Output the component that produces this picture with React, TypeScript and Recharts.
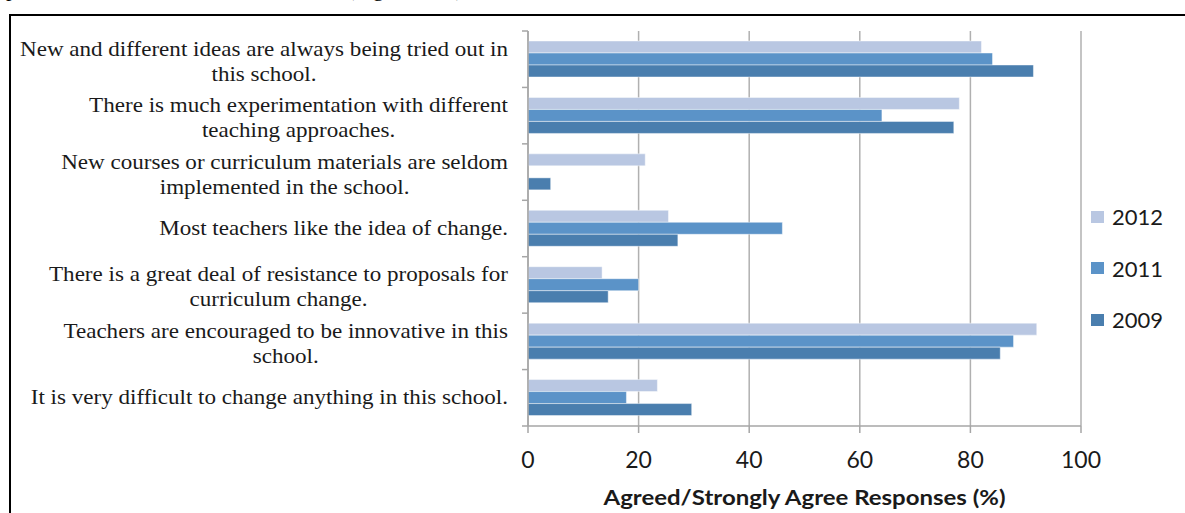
import { BarChart, Bar, XAxis, YAxis, CartesianGrid, Legend } from 'recharts'

const statements = [
  'New and different ideas are always being tried out in\nthis school.',
  'There is much experimentation with different\nteaching approaches.',
  'New courses or curriculum materials are seldom\nimplemented in the school.',
  'Most teachers like the idea of change.',
  'There is a great deal of resistance to proposals for\ncurriculum change.',
  'Teachers are encouraged to be innovative in this\nschool.',
  'It is very difficult to change anything in this school.',
]
const years = ['2012', '2011', '2009']
const values2012 = [82, 78, 21.2, 25.4, 13.4, 92, 23.4]
const values2011 = [84, 64, 0, 46, 20, 87.8, 17.8]
const values2009 = [91.4, 77, 4.1, 27.1, 14.5, 85.4, 29.6]
const xTicks = [0, 20, 40, 60, 80, 100]
const xTitle = 'Agreed/Strongly Agree Responses (%)'

const colors = ['#B9C7E2', '#5B93C8', '#4A7EAE']

const data = statements.map((name, i) => ({
  name,
  '2012': values2012[i],
  '2011': values2011[i],
  '2009': values2009[i],
}))

const W = 1185
const H = 513
const TOP = 31
const BOTTOM = 87
const AXIS_X = 528
const BAND = (H - TOP - BOTTOM) / statements.length
const SERIF = "'Liberation Serif', 'Times New Roman', serif"
const SANS = "Lato, 'Open Sans', sans-serif"
const LABEL_SIZE = 21.5

let ctx: CanvasRenderingContext2D | null = null
function measure(s: string) {
  if (!ctx) {
    ctx = document.createElement('canvas').getContext('2d')
    if (ctx) ctx.font = `${LABEL_SIZE}px ${SERIF}`
  }
  return ctx ? ctx.measureText(s).width : s.length * 9
}
// the source picture is a bit wider than the font would be
const stretch = () => 488 / measure('New and different ideas are always being tried out in')

function StatementTick(props: any) {
  const { y, payload, index } = props
  const lines = String(payload.value).split('\n')
  const k = stretch()
  const widths = lines.map((l) => measure(l) * k)
  const maxW = Math.max(...widths)
  const right = AXIS_X - 20
  const base = lines.length > 1 ? [y - 3.5, y + 21.5] : [y + 6]
  return (
    <g>
      <line x1={AXIS_X - 6} x2={AXIS_X} y1={y - BAND / 2} y2={y - BAND / 2} stroke="#A6A6A6" strokeWidth={1.5} />
      {index === statements.length - 1 && (
        <line x1={AXIS_X - 6} x2={AXIS_X} y1={y + BAND / 2} y2={y + BAND / 2} stroke="#A6A6A6" strokeWidth={1.5} />
      )}
      {lines.map((l, i) => (
        <text
          key={i}
          x={lines.length > 1 ? right - maxW / 2 : right}
          y={base[i]}
          textAnchor={lines.length > 1 ? 'middle' : 'end'}
          textLength={widths[i]}
          lengthAdjust="spacingAndGlyphs"
          fontFamily={SERIF}
          fontSize={LABEL_SIZE}
          fill="#1a1a1a"
        >
          {l}
        </text>
      ))}
    </g>
  )
}

function XTitle(props: any) {
  const vb = props.viewBox || { x: AXIS_X, y: H - BOTTOM, width: 553, height: BOTTOM }
  return (
    <text
      x={vb.x + vb.width / 2}
      y={vb.y + vb.height - 8}
      textAnchor="middle"
      textLength={402}
      lengthAdjust="spacingAndGlyphs"
      fontFamily={SANS}
      fontSize={21}
      fontWeight={700}
      fill="#1a1a1a"
    >
      {xTitle}
    </text>
  )
}

function LegendBox(props: any) {
  const items = [...(props.payload || [])].sort(
    (a: any, b: any) => years.indexOf(String(a.value)) - years.indexOf(String(b.value)),
  )
  return (
    <div style={{ fontFamily: SANS, fontSize: 22, color: '#1a1a1a' }}>
      {items.map((it: any) => (
        <div key={it.value} style={{ display: 'flex', alignItems: 'center', height: 51.5 }}>
          <span style={{ display: 'inline-block', width: 13, height: 12, background: it.color, marginRight: 8 }} />
          <span>{it.value}</span>
        </div>
      ))}
    </div>
  )
}

export default function App() {
  return (
    <div style={{ position: 'relative', width: W, height: H, background: '#fff', overflow: 'hidden' }}>
      <style>{'body{margin:0}'}</style>
      <svg width={W} height={H} style={{ position: 'absolute', left: 0, top: 0 }}>
        <text x={6} y={-4} fontFamily={SERIF} fontSize={22} fill="#000">p</text>
        <text x={347} y={-4} fontFamily={SERIF} fontSize={22} fill="#000">(Figure 4.12)</text>
        <line x1={9} x2={W} y1={15} y2={15} stroke="#000" strokeWidth={2} />
        <line x1={10} x2={10} y1={14} y2={H} stroke="#000" strokeWidth={2} />
      </svg>
      <div style={{ position: 'absolute', left: 0, top: 0 }}>
        <BarChart
          width={W}
          height={H}
          data={data}
          layout="vertical"
          margin={{ top: TOP, right: 104, bottom: 0, left: 0 }}
          barCategoryGap={10}
          barGap={0}
        >
          <CartesianGrid horizontal={false} stroke="#B0B0B0" strokeWidth={1.5} />
          <XAxis
            type="number"
            domain={[0, 100]}
            ticks={xTicks}
            height={BOTTOM}
            tickSize={7}
            tickMargin={19}
            stroke="#A6A6A6"
            strokeWidth={1.5}
            tick={{ fill: '#1a1a1a', fontFamily: SANS, fontSize: 23 }}
            label={{ content: <XTitle /> }}
          />
          <YAxis
            type="category"
            dataKey="name"
            width={AXIS_X}
            tickLine={false}
            stroke="#A6A6A6"
            strokeWidth={1.5}
            tick={<StatementTick />}
            interval={0}
          />
          <Legend
            layout="vertical"
            align="center"
            verticalAlign="middle"
            wrapperStyle={{ left: 1091, top: 191, width: 90 }}
            content={<LegendBox />}
          />
          {years.map((yr, i) => (
            <Bar
              key={yr}
              dataKey={yr}
              fill={colors[i]}
              stroke="#ffffff"
              strokeOpacity={0.45}
              strokeWidth={1}
              isAnimationActive={false}
            />
          ))}
        </BarChart>
      </div>
    </div>
  )
}
